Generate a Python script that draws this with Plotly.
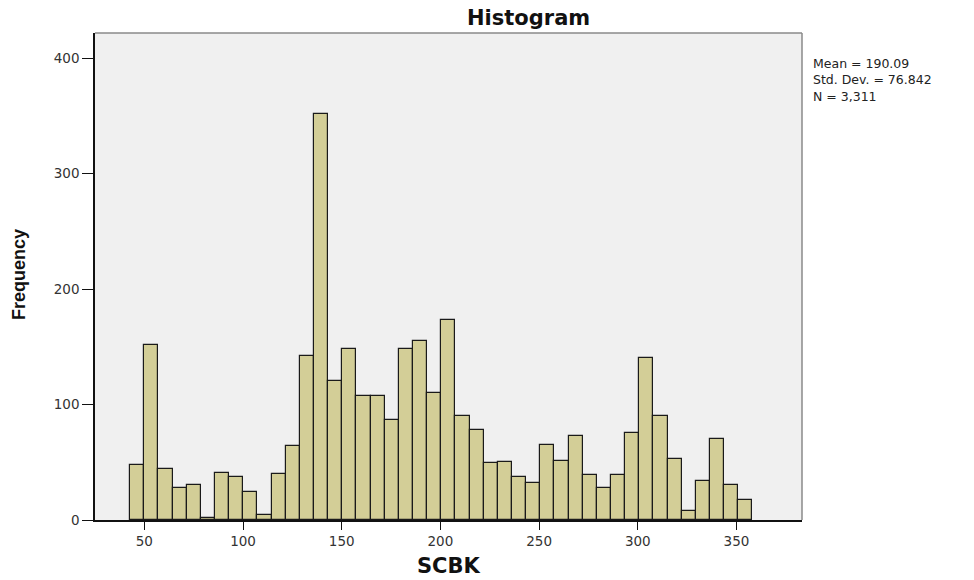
import plotly.graph_objects as go

# Histogram data (SCBK)
bin_start = 42.8
bin_width = 7.165
counts = [48, 152, 44, 28, 30, 2, 41, 37, 24, 4, 40, 64, 142, 352, 120,
          148, 107, 107, 87, 148, 155, 110, 173, 90, 78, 49, 50, 37, 32, 65,
          51, 73, 39, 28, 39, 75, 140, 90, 53, 8, 34, 70, 30, 17]
x_ticks = [50, 100, 150, 200, 250, 300, 350]
y_ticks = [0, 100, 200, 300, 400]
stats_lines = ["Mean = 190.09", "Std. Dev. = 76.842", "N = 3,311"]
title_text = "Histogram"
x_title = "SCBK"
y_title = "Frequency"

centers = [bin_start + bin_width * (i + 0.5) for i in range(len(counts))]

W, H = 974, 580
L, R, T, B = 95, 802, 33, 520  # plot area in pixels


def px_x(px):
    return (px - L) / (R - L)


def px_y(py):
    return (B - py) / (B - T)


wide = "DejaVu Sans, Verdana, sans-serif"
arial = "Liberation Sans, Arial, sans-serif"

fig = go.Figure()
fig.add_trace(go.Bar(
    x=centers, y=counts, width=[bin_width] * len(counts),
    marker=dict(color="#D3CE97", line=dict(color="#1a1a1a", width=1.2)),
    hoverinfo="x+y",
))

fig.update_layout(
    width=W, height=H,
    margin=dict(l=L, r=W - R, t=T, b=H - B),
    paper_bgcolor="white",
    plot_bgcolor="#F0F0F0",
    showlegend=False,
    bargap=0,
    font=dict(family=wide, size=13, color="#222"),
    xaxis=dict(range=[25, 383.2], tickvals=x_ticks, ticks="outside", ticklen=8,
               tickcolor="#111", showline=True, linecolor="#111", linewidth=1.5,
               showgrid=False, zeroline=False, automargin=False,
               tickfont=dict(family=wide, size=13.5, color="#333")),
    yaxis=dict(range=[0, 421.9], tickvals=y_ticks, ticks="outside", ticklen=11,
               tickcolor="#111", showline=True, linecolor="#111", linewidth=1.5,
               showgrid=False, zeroline=False, automargin=False,
               tickfont=dict(family=wide, size=13.5, color="#333")),
)

# gray top/right border of the plot frame
fig.add_shape(type="line", xref="paper", yref="paper", x0=0, x1=1, y0=1, y1=1,
              line=dict(color="#8a8a8a", width=1.5), layer="above")
fig.add_shape(type="line", xref="paper", yref="paper", x0=1, x1=1, y0=0, y1=1,
              line=dict(color="#8a8a8a", width=1.5), layer="above")

# title
fig.add_annotation(text="<b>" + title_text + "</b>", xref="paper", yref="paper",
                   x=px_x(528), y=px_y(18), xanchor="center", yanchor="middle",
                   showarrow=False, font=dict(family=wide, size=21, color="#111"))
# axis titles
fig.add_annotation(text="<b>" + x_title + "</b>", xref="paper", yref="paper",
                   x=px_x(448.5), y=px_y(566), xanchor="center", yanchor="middle",
                   showarrow=False, font=dict(family=wide, size=21, color="#111"))
fig.add_annotation(text="<b>" + y_title + "</b>", xref="paper", yref="paper",
                   x=px_x(19), y=px_y(275), xanchor="center", yanchor="middle",
                   textangle=-90, showarrow=False,
                   font=dict(family=arial, size=18, color="#111"))

# stats box text
fig.add_annotation(
    text="<br>".join(stats_lines), xref="paper", yref="paper",
    x=px_x(811), y=px_y(80), xanchor="left", yanchor="middle",
    align="left", showarrow=False,
    font=dict(family=wide, size=12.5, color="#222"),
)

fig.write_html("out.html")
